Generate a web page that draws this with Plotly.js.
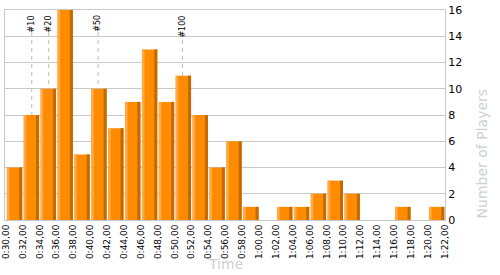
<!DOCTYPE html>
<html>
<head>
<meta charset="utf-8">
<script src="https://cdn.plot.ly/plotly-3.0.1.min.js"></script>
<style>html,body{margin:0;padding:0;background:#fff;}#chart{width:500px;height:275px;}</style>
</head>
<body>
<div id="chart"></div>
<script>
// Bin edge labels (bin start times)
var tickLabels = ["0:30,00","0:32,00","0:34,00","0:36,00","0:38,00","0:40,00","0:42,00","0:44,00","0:46,00","0:48,00","0:50,00","0:52,00","0:54,00","0:56,00","0:58,00","1:00,00","1:02,00","1:04,00","1:06,00","1:08,00","1:10,00","1:12,00","1:14,00","1:16,00","1:18,00","1:20,00","1:22,00"];
// Number of players finishing in each 2-minute bin
var counts = [4,8,10,16,5,10,7,9,13,9,11,8,4,6,1,0,1,1,2,3,2,0,0,1,0,1];
// Rank markers
var markerLabels = ["#10","#20","#50","#100"];
var markerTimes = [33.07, 35.08, 40.93, 50.92];
var xTitle = "Time";
var yTitle = "Number of Players";

function toMinutes(s){
  var p = s.split(",")[0].split(":");
  return parseInt(p[0],10)*60 + parseInt(p[1],10);
}
var tickVals = tickLabels.map(toMinutes);
var binStarts = tickVals.slice(0, counts.length);

var gapOff = 0.12, barW = 1.82, lightW = 0.3, darkW = 0.36;

var traces = [
  {type:'bar', x:binStarts, y:counts, offset:gapOff, width:barW,
   marker:{color:'#FF8C00', line:{width:0}}, hoverinfo:'skip'},
  {type:'bar', x:binStarts, y:counts, offset:gapOff, width:lightW,
   marker:{color:'#FFAA48', line:{width:0}}, hoverinfo:'skip'},
  {type:'bar', x:binStarts, y:counts, offset:gapOff+barW-darkW, width:darkW,
   marker:{color:'#C46A00', line:{width:0}}, hoverinfo:'skip'}
];

var shapes = [], annotations = [];
var labelTop = 0.985;
markerLabels.forEach(function(lbl, i){
  var lenPx = lbl.length*5.3 + 3;
  shapes.push({type:'line', layer:'below', xref:'x', yref:'paper',
    x0:markerTimes[i], x1:markerTimes[i], y0:0, y1:labelTop - lenPx/210,
    line:{color:'#bbbbbb', width:1, dash:'4px,4px'}});
  annotations.push({xref:'x', yref:'paper', x:markerTimes[i], y:labelTop,
    text:lbl, showarrow:false, textangle:-90, xanchor:'center', yanchor:'top',
    font:{family:'DejaVu Sans', size:8, color:'#000'}});
});
// Axis titles
annotations.push({xref:'paper', yref:'paper', x:1.085, y:0.0, text:yTitle,
  showarrow:false, textangle:-90, xanchor:'center', yanchor:'bottom',
  font:{family:'DejaVu Sans', size:14, color:'#d0d0d0'}});
annotations.push({xref:'paper', yref:'paper', x:0.5, y:-0.21, text:xTitle,
  showarrow:false, xanchor:'center', yanchor:'middle',
  font:{family:'DejaVu Sans', size:14, color:'#d0d0d0'}});

var layout = {
  width:500, height:275,
  margin:{l:5, r:55, t:10, b:55},
  paper_bgcolor:'#fff', plot_bgcolor:'#fff',
  barmode:'overlay', showlegend:false,
  font:{family:'DejaVu Sans', color:'#000'},
  xaxis:{range:[29.9, 82.02], tickvals:tickVals, ticktext:tickLabels, tickangle:-90,
    tickfont:{family:'DejaVu Sans', size:9, color:'#000'},
    showgrid:false, zeroline:false, showline:true, mirror:true, linecolor:'#c8c8c8', linewidth:1,
    ticks:'', fixedrange:true},
  yaxis:{side:'right', range:[0,16], dtick:2, tick0:0,
    tickfont:{family:'DejaVu Sans', size:11, color:'#000'},
    showgrid:true, gridcolor:'#c8c8c8', gridwidth:1, zeroline:false,
    showline:true, mirror:true, linecolor:'#c8c8c8', linewidth:1, ticks:'', fixedrange:true},
  shapes:shapes, annotations:annotations
};
Plotly.newPlot('chart', traces, layout, {displayModeBar:false, staticPlot:true});
</script>
</body>
</html>
